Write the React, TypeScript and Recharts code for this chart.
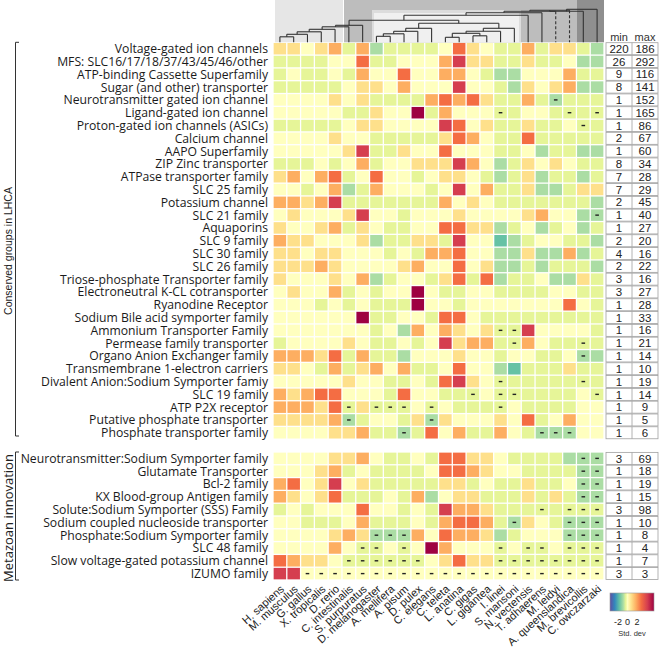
import React from "react";
import { ScatterChart, Scatter, XAxis, YAxis, Customized } from "recharts";

const species = [
  "H. sapiens", "M. musculus", "G. gallus", "X. tropicalis", "D. rerio", "C. intestinalis",
  "S. purpuratus", "D. melanogaster", "A. mellifera", "A. pisum", "D. pulex", "C. elegans",
  "C. teleta", "L. anatina", "C. gigas", "L. gigantea", "I. linei", "S. mansoni",
  "N. vectensis", "T. adhaerens", "M. leidyi", "A. queenslandica", "M. brevicollis", "C. owczarzaki",
];

const conservedGroups = [
  "Voltage-gated ion channels", "MFS: SLC16/17/18/37/43/45/46/other", "ATP-binding Cassette Superfamily",
  "Sugar (and other) transporter", "Neurotransmitter gated ion channel", "Ligand-gated ion channel",
  "Proton-gated ion channels (ASICs)", "Calcium channel", "AAPO Superfamily", "ZIP Zinc transporter",
  "ATPase transporter family", "SLC 25 family", "Potassium channel", "SLC 21 family", "Aquaporins",
  "SLC 9 family", "SLC 30 family", "SLC 26 family", "Triose-phosphate Transporter family",
  "Electroneutral K-CL cotransporter", "Ryanodine Receptor", "Sodium Bile acid symporter family",
  "Ammonium Transporter Family", "Permease family transporter", "Organo Anion Exchanger family",
  "Transmembrane 1-electron carriers", "Divalent Anion:Sodium Symporter famiy", "SLC 19 family",
  "ATP P2X receptor", "Putative phosphate transporter", "Phosphate transporter family",
];

const metazoanGroups = [
  "Neurotransmitter:Sodium Symporter family", "Glutamate Transporter", "Bcl-2 family",
  "KX Blood-group Antigen family", "Solute:Sodium Symporter (SSS) Family",
  "Sodium coupled nucleoside transporter", "Phosphate:Sodium Symporter family", "SLC 48 family",
  "Slow voltage-gated potassium channel", "IZUMO family",
];

// std. dev per group (rows) and species (columns)
const conservedValues = [
  [0.8, 0.8, 0, 0.8, 1.8, -0.4, 1.8, -0.9, -0.4, -0.4, -0.4, -0.4, 0, 2.9, 0.8, 0, -0.4, -0.4, 1.8, -0.4, 0.8, 0.8, -0.4, -0.9],
  [-0.4, -0.4, -0.4, -0.4, 0, 0, 2.9, -0.4, -0.4, 0, 0, 0, 1.8, 4.2, 0.8, 0.8, -0.4, -0.4, 0.8, -0.4, -0.4, 0, -0.9, -0.9],
  [-0.4, 0, -0.4, -0.4, 0, -0.4, 1.8, 0, 0, 2.9, 0, 0, 1.8, 1.8, 0, -0.4, -0.9, -0.9, 0, 0, 0, 1.8, -0.4, -0.4],
  [-0.4, -0.4, -0.4, -0.4, -0.4, 0, 0.8, 0.8, 0, 1.8, 0, 0, 0, 4.2, 0, 0, -0.4, -0.9, 0.8, 0, 0.8, 1.8, -0.9, -0.9],
  [0, 0, 0, 0, 0.8, 0, 0.8, -0.4, -0.4, -0.4, -0.4, 1.8, 2.9, 1.8, 2.9, 0.8, -0.4, -0.4, 1.8, -0.4, -0.9, -0.4, -0.4, -0.4],
  [0, 0, 0, 0, 0, -0.4, -0.4, 0.8, 0, 0, 5.6, -0.4, 1.8, 0, 0, 0, -0.4, -0.4, 0, 0, -0.4, -0.4, -0.4, -0.4],
  [-0.4, -0.4, -0.4, -0.4, -0.4, 0, 0.8, 0.8, 0, 0, 0, 0, 4.2, 2.9, 0, 0.8, -0.4, -0.4, 0.8, -0.4, -0.4, 0, -0.4, -0.4],
  [0, 0, 0, 0, 0.8, 0, 0, -0.4, -0.4, -0.4, -0.4, -0.4, 0.8, 2.9, 1.8, 0, -0.4, -0.4, 2.9, -0.4, -0.4, -0.4, -0.4, -0.4],
  [0, 0, 0, 0, 0, 0.8, 4.2, -0.4, -0.4, 0.8, 0, 0, 2.9, 0, 0, 0, -0.4, -0.4, 0, -0.9, -0.4, -0.4, -0.9, -0.9],
  [-0.4, -0.4, -0.4, 0, -0.4, 0, 1.8, -0.4, 0, 0, 0.8, 0.8, 0.8, 4.2, 1.8, 0, -0.9, -0.4, 0.8, 0, 0.8, 0, -0.4, -0.4],
  [0.8, 1.8, 0, 1.8, 2.9, -0.4, 0, 2.9, 0, 0, -0.4, 0, 0.8, 0.8, 0, -0.4, -0.9, -0.4, 0.8, -0.9, -0.4, -0.4, -0.9, -0.4],
  [0, 0, -0.4, 0, 1.8, -0.9, -0.4, 1.8, 0, 0, 0, -0.4, 0, 4.2, 0, 1.8, -0.4, -0.4, 0.8, -0.9, -0.9, -0.4, 0.8, 0.8],
  [1.8, 1.8, 0.8, 1.8, 4.2, -0.4, -0.4, -0.4, -0.4, -0.4, -0.4, -0.4, 1.8, 0, 0.8, 0, -0.4, -0.4, -0.4, -0.4, -0.4, -0.4, -0.4, -0.9],
  [0, 0.8, 0, 0, 0, 0.8, 4.2, 0, 0, -0.4, 0, 0, 0, 0.8, 0, 0, 0, 0, 0.8, 1.8, 0, 0, -0.9, -0.9],
  [0.8, 0, 0, 0.8, 1.8, -0.4, 0.8, 0, -0.4, -0.4, 0, 0, 2.9, 2.9, 0.8, 0.8, -0.9, -0.4, 0, -0.9, -0.4, 0, -0.9, -0.4],
  [1.8, 0.8, 0.8, 0, 0, 0, 0.8, -0.9, -0.4, -0.4, 0.8, 0.8, -0.4, 4.2, 0, 0, -1.7, -0.9, -0.4, 0, 0, -0.4, -0.4, -0.9],
  [0.8, 0.8, 0, 0.8, 0.8, 0, 0, 0, -0.4, 0, -0.4, 1.8, 1.8, 2.9, 0, 0, -0.9, -0.9, 0.8, -0.9, -0.9, 1.8, -0.9, -0.4],
  [0.8, 0.8, 0.8, 1.8, 0.8, 0, 0, 0, 0, 0.8, 1.8, 0, 0, 2.9, 0, 0.8, -0.9, -0.9, -0.4, -0.9, -0.4, -0.4, -0.4, -0.9],
  [0.8, 0, 0, 0, 0.8, 0, 1.8, -0.9, -0.4, 0, 0, -0.4, 0.8, 2.9, -0.4, 2.9, -0.9, -0.4, -0.4, 0, -0.9, -0.9, 0.8, -0.4],
  [0, 0.8, 0, 0, 1.8, -0.4, 0, -0.4, 0, 0, 5.6, 0, -0.4, -0.4, 0, 0, -0.4, -0.4, -0.4, -0.4, 0, 0, -0.4, -0.4],
  [0, 0, 0, -0.4, 0, -0.4, 0, -0.4, -0.4, -0.4, 5.6, 0, 0, -0.4, 0, 0, 0, 0, 0, 0, 0, 2.9, 0, -0.4],
  [0, 0, 0, 0, 0, 0, 5.6, -0.4, -0.4, 0, 0, -0.4, 2.9, 2.9, 0, -0.4, -0.4, -0.4, -0.4, -0.4, -0.4, -0.4, -0.4, -0.4],
  [0, 0, 0, 0, 0, 0, 0, -0.4, 0, -0.9, 1.8, 0, 1.8, 0.8, 0, 0.8, -0.4, -0.4, 4.2, 0, 0, 0, 0, -0.4],
  [-0.4, 0, 0, 0, 0, 0.8, 0, -0.4, -0.4, 0, -0.4, 0, 4.2, 0.8, 1.8, 1.8, -0.4, -0.4, 1.8, 0, -0.4, -0.4, -0.4, -0.4],
  [1.8, 1.8, 1.8, 0.8, 2.9, -0.4, 1.8, -0.4, -0.4, -0.9, 0, 0, 0, 0.8, 0, 0, -0.4, 0, 0, -0.4, -0.4, 0, -0.9, -0.9],
  [0.8, 0.8, 0, -0.4, 1.8, -0.4, 0.8, 1.8, 0, 1.8, -0.4, -0.4, 0, 2.9, 0, 0, -0.9, -1.7, -0.4, -0.4, -0.4, 0.8, -0.4, -0.4],
  [0, 0, 0, 0, 0, 0.8, 0, 0, -0.4, -0.4, 0, -0.4, 2.9, 4.2, 0.8, 0, -0.4, -0.4, -0.4, -0.4, -0.4, -0.4, -0.4, -0.4],
  [1.8, 0.8, 1.8, 2.9, 2.9, 0, 0, 0, -0.4, 2.9, 0, 0, -0.4, -0.4, -0.4, 0, -0.4, -0.4, -0.4, -0.4, -0.4, -0.4, 0, -0.4],
  [1.8, 1.8, 1.8, 0.8, 2.9, -0.4, 0.8, -0.4, -0.4, -0.4, 0, -0.4, 0, -0.4, -0.4, -0.4, -0.4, 0, -0.4, -0.4, -0.4, -0.4, 0, 0],
  [0.8, 0.8, 0.8, 0.8, 1.8, -0.9, -0.4, 0, 0, -0.4, 0.8, -0.9, 0.8, 0, 0, 0, 0.8, 0, 2.9, -0.4, 0, 1.8, 0, 0],
  [0, 0, 0, 0, 0.8, 0.8, 1.8, -0.4, -0.4, -0.9, -0.4, 2.9, 0, 1.8, -0.4, -0.4, 1.8, 0, -0.4, -0.9, -0.9, -0.9, 0, 0],
];

const metazoanValues = [
  [0, 0, 0, 0, 0.8, 0.8, 1.8, 0, -0.4, -0.4, 0, -0.4, 2.9, 2.9, 0.8, 0.8, 0, -0.4, -0.4, -0.4, -0.4, -0.9, -0.9, -0.9],
  [0, 0, 0, 0.8, 1.8, -0.4, 0, -0.4, -0.4, -0.4, -0.4, 0, 2.9, 2.9, 1.8, 0.8, 0, 0, -0.4, -0.4, -0.4, -0.4, -0.9, -0.9],
  [1.8, 2.9, 0, 0.8, 4.2, 0, 0.8, -0.4, -0.4, -0.4, -0.4, -0.4, 0.8, 0.8, -0.4, 0, -0.4, -0.4, 0.8, -0.4, -0.4, 0, -0.9, -0.9],
  [1.8, 0.8, 0, 0.8, 2.9, -0.4, -0.4, -0.4, 0, -0.4, 1.8, -0.9, 0, 0.8, 0.8, -0.4, -0.4, -0.4, 0.8, -0.4, 0.8, -0.4, -0.9, -0.9],
  [-0.4, 0, -0.4, 0, 0, 0, 2.9, 0, 0, -0.4, 0, -0.4, 4.2, 1.8, 1.8, 0.8, -0.4, -0.4, -0.4, -0.4, -0.4, -0.4, -0.4, -0.4],
  [0, 0, -0.4, -0.4, -0.4, 0, 1.8, -0.4, -0.4, -0.4, 0, -0.4, 1.8, 2.9, 2.9, 1.8, -0.4, -0.9, 0.8, 0, -0.4, -0.9, -0.9, -0.9],
  [0, 0, 0, 0, 0.8, 1.8, 0.8, -0.9, -0.9, -0.9, 1.8, 0, 2.9, 1.8, 1.8, 0.8, -0.9, -0.4, 0, 0, 0, -0.9, -0.9, -0.9],
  [0, 0, 0, 0, 1.8, 0, -0.4, -0.4, 0, -0.4, 0, 5.6, 1.8, 0, 0, 0, -0.4, 0, -0.4, -0.4, 0, -0.4, -0.4, -0.4],
  [2.9, 1.8, 0.8, 0.8, 0, -0.4, -0.4, -0.4, -0.4, -0.4, -0.4, 0, 0.8, 2.9, 0.8, 0.8, -0.4, -0.4, -0.4, -0.4, -0.4, -0.4, -0.4, -0.4],
  [4.2, 4.2, 0, 0, 0, 0, 0, 0, 0, 0, 0, 0, 0, 0, 0, 0, 0, 0, 0, 0, 0, 0, 0, 0],
];

// species (column index) where the group is absent, shown with a dash
const conservedDashes = [
  [], [], [], [], [20], [16, 21, 23], [22], [], [], [], [], [], [], [23], [], [], [], [], [], [], [], [],
  [16, 17], [17, 22], [22], [], [16, 22], [14, 16, 17, 23], [5, 7, 8, 9, 11, 16], [5, 11], [9, 19, 20, 21],
];
const metazoanDashes = [
  [22, 23], [22, 23], [22, 23], [22, 23], [19, 21, 22, 23], [17, 21, 22, 23], [7, 8, 9, 21, 22, 23],
  [6, 7, 9, 16, 18, 19, 21, 22, 23], [5, 6, 7, 8, 9, 10, 16, 17, 18, 19, 20, 21, 22, 23],
  [2, 3, 4, 5, 6, 7, 8, 9, 10, 11, 12, 13, 14, 15, 16, 17, 18, 19, 20, 21, 22, 23],
];

const conservedMin = [220, 26, 9, 8, 1, 1, 1, 2, 1, 8, 7, 7, 2, 1, 1, 2, 4, 2, 3, 3, 1, 1, 1, 1, 1, 1, 1, 1, 1, 1, 1];
const conservedMax = [186, 292, 116, 141, 152, 165, 86, 67, 60, 34, 28, 29, 45, 40, 27, 20, 16, 22, 16, 27, 28, 33, 16, 21, 14, 10, 19, 14, 9, 5, 6];
const metazoanMin = [3, 1, 1, 1, 3, 1, 1, 1, 1, 3];
const metazoanMax = [69, 18, 19, 15, 98, 10, 8, 4, 7, 3];

// species tree: [child a, child b, height, dashed]; leaves are 0..23, merges are 24+
const treeMerges: [number, number, number, boolean][] = [
  [0, 1, 5.5, false], [24, 2, 8, false], [25, 3, 10.5, false], [26, 4, 13, false],
  [27, 5, 15.5, false], [28, 6, 17, false],
  [7, 8, 6, false], [30, 9, 8.5, false], [31, 10, 11, false], [32, 11, 14, false],
  [12, 13, 5, false], [14, 15, 6.5, false], [34, 35, 9, false], [36, 16, 11, false], [37, 17, 14, false],
  [33, 38, 19, false], [29, 39, 22, false], [40, 18, 27, false], [41, 19, 29.5, false],
  [42, 20, 31, true], [43, 21, 32, true], [44, 22, 31, false], [45, 23, 33, false],
];

const GAP = 1; // blank rows between the two blocks
const metazoanStart = conservedGroups.length + GAP;

const W = 660;
const H = 648;
const PLOT_LEFT = 273;
const PLOT_RIGHT = 604;
const PLOT_TOP = 42.3;
const PLOT_BOTTOM = 580;
const COL_W = (PLOT_RIGHT - PLOT_LEFT) / species.length;
const ROW_H = (PLOT_BOTTOM - PLOT_TOP) / (metazoanStart + metazoanGroups.length);

const stops: [number, string][] = [
  [-3.7, "#5e4fa2"], [-2.7, "#3288bd"], [-1.7, "#66c2a5"], [-0.9, "#abdda4"], [-0.4, "#e6f598"],
  [0, "#ffffbf"], [0.8, "#fee08b"], [1.8, "#fdae61"], [2.9, "#f46d43"], [4.2, "#d53e4f"], [5.6, "#9e0142"],
];

function hex(c: string) {
  return [1, 3, 5].map((i) => parseInt(c.slice(i, i + 2), 16));
}
function colorFor(v: number) {
  if (v <= stops[0][0]) return stops[0][1];
  for (let i = 1; i < stops.length; i++) {
    if (v <= stops[i][0]) {
      const [v0, c0] = stops[i - 1];
      const [v1, c1] = stops[i];
      const t = (v - v0) / (v1 - v0);
      const a = hex(c0), b = hex(c1);
      return `rgb(${a.map((x, k) => Math.round(x + (b[k] - x) * t)).join(",")})`;
    }
  }
  return stops[stops.length - 1][1];
}

const cells: { x: number; y: number; v: number; dash: boolean }[] = [];
conservedValues.forEach((row, r) =>
  row.forEach((v, c) => cells.push({ x: c, y: r, v, dash: conservedDashes[r].includes(c) }))
);
metazoanValues.forEach((row, r) =>
  row.forEach((v, c) => cells.push({ x: c, y: metazoanStart + r, v, dash: metazoanDashes[r].includes(c) }))
);

const rowTicks = [
  ...conservedGroups.map((_, i) => i),
  ...metazoanGroups.map((_, i) => metazoanStart + i),
];
function rowInfo(pos: number) {
  if (pos < conservedGroups.length)
    return { label: conservedGroups[pos], min: conservedMin[pos], max: conservedMax[pos] };
  const j = pos - metazoanStart;
  return { label: metazoanGroups[j], min: metazoanMin[j], max: metazoanMax[j] };
}

const labelFont = "'Open Sans', 'Noto Sans', sans-serif";
const arial = "'Liberation Sans', Arial, sans-serif";

const HeatCell = (props: any) => {
  const { cx, cy, payload } = props;
  const w = COL_W - 1.3;
  const h = ROW_H - 1.3;
  return (
    <g>
      <rect x={cx - w / 2} y={cy - h / 2} width={w} height={h} fill={colorFor(payload.v)} />
      {payload.dash && <rect x={cx - 1.8} y={cy - 0.7} width={3.6} height={1.4} fill="#222" />}
    </g>
  );
};

const GroupTick = (props: any) => {
  const { x, y, payload } = props;
  return (
    <text x={x} y={y} dy="0.36em" textAnchor="end" fontSize={12.2} fontFamily={labelFont} fill="#1a1a1a">
      {rowInfo(payload.value).label}
    </text>
  );
};

const TableTick = (props: any) => {
  const { y, payload } = props;
  const info = rowInfo(payload.value);
  const top = y - ROW_H / 2 + 0.4;
  const h = ROW_H - 0.8;
  return (
    <g>
      <rect x={606} y={top} width={52} height={h} fill="#fff" stroke="#a0a0a0" strokeWidth={0.8} />
      <line x1={632} y1={top} x2={632} y2={top + h} stroke="#a0a0a0" strokeWidth={0.8} />
      <text x={619} y={y} dy="0.36em" textAnchor="middle" fontSize={11.5} fontFamily={arial} fill="#222">
        {info.min}
      </text>
      <text x={645} y={y} dy="0.36em" textAnchor="middle" fontSize={11.5} fontFamily={arial} fill="#222">
        {info.max}
      </text>
    </g>
  );
};

const SpeciesTick = (props: any) => {
  const { x, y, payload } = props;
  const ax = x + 5;
  const ay = y + 10;
  return (
    <text x={ax} y={ay} transform={`rotate(-42 ${ax} ${ay})`} textAnchor="end" fontSize={11} fontFamily={arial} fill="#222">
      {species[payload.value]}
    </text>
  );
};

const colX = (i: number) => PLOT_LEFT + (i + 0.5) * COL_W;

const Decorations = () => {
  const base = PLOT_TOP;
  const nx = species.map((_, i) => colX(i));
  const ny = species.map(() => base);
  const lines: React.ReactNode[] = [];
  treeMerges.forEach(([a, b, h, dashed], k) => {
    const y = base - h;
    const dash = dashed ? "3 2" : undefined;
    lines.push(
      <g key={k} stroke="#333" strokeWidth={1.1} fill="none">
        <line x1={nx[a]} y1={y} x2={nx[b]} y2={y} />
        <line x1={nx[a]} y1={y} x2={nx[a]} y2={ny[a]} strokeDasharray={a === 20 || a === 21 ? dash : undefined} />
        <line x1={nx[b]} y1={y} x2={nx[b]} y2={ny[b]} strokeDasharray={dash} />
      </g>
    );
    nx.push((nx[a] + nx[b]) / 2);
    ny.push(y);
  });

  const legendStops = stops.map(([v], i) => ({ off: (v - stops[0][0]) / (stops[stops.length - 1][0] - stops[0][0]), c: stops[i][1] }));
  const lx0 = 610, lx1 = 654;
  const valX = (v: number) => lx0 + ((v - stops[0][0]) / (stops[stops.length - 1][0] - stops[0][0])) * (lx1 - lx0);

  return (
    <g>
      {/* clade shading behind the tree */}
      <rect x={275} y={0} width={68} height={base} fill="#e6e6e6" />
      <rect x={344} y={0} width={233} height={base} fill="#bdbdbd" />
      <rect x={372} y={10} width={149} height={base - 10} fill="#dcdcdc" />
      <rect x={374} y={13} width={145} height={base - 13} fill="#f0f0f0" />
      <rect x={577} y={0} width={27} height={base} fill="#8f8f8f" />
      {lines}

      {/* side brackets */}
      <g stroke="#333" strokeWidth={1} fill="none">
        <polyline points={`19,${PLOT_TOP} 15.5,${PLOT_TOP} 15.5,436 19,436`} />
        <polyline points={`19,452 15.5,452 15.5,${PLOT_BOTTOM} 19,${PLOT_BOTTOM}`} />
      </g>
      <text x={11.5} y={251} transform="rotate(-90 11.5 251)" textAnchor="middle" fontSize={10.5} fontFamily={arial} fill="#222">
        Conserved groups in LHCA
      </text>
      <text x={13} y={518} transform="rotate(-90 13 518)" textAnchor="middle" fontSize={13} fontFamily={labelFont} fill="#222">
        Metazoan innovation
      </text>

      {/* table header */}
      <text x={619} y={41} textAnchor="middle" fontSize={11} fontFamily={arial} fill="#333">min</text>
      <text x={645} y={41} textAnchor="middle" fontSize={11} fontFamily={arial} fill="#333">max</text>

      {/* colour legend */}
      <defs>
        <linearGradient id="sd" x1="0" x2="1" y1="0" y2="0">
          {legendStops.map((s, i) => (
            <stop key={i} offset={s.off} stopColor={s.c} />
          ))}
        </linearGradient>
      </defs>
      <rect x={lx0} y={593} width={lx1 - lx0} height={18} fill="url(#sd)" stroke="#999" strokeWidth={0.6} />
      {[-2, 0, 2].map((v) => (
        <text key={v} x={valX(v)} y={625} textAnchor="middle" fontSize={9} fontFamily={arial} fill="#222">
          {v}
        </text>
      ))}
      <text x={632} y={636} textAnchor="middle" fontSize={7.5} fontFamily={arial} fill="#333">Std. dev</text>
    </g>
  );
};

export default function App() {
  return (
    <div style={{ position: "absolute", left: 0, top: 0, width: W, height: H, background: "#fff" }}>
      <ScatterChart width={W} height={H} margin={{ top: PLOT_TOP, right: 0, bottom: 0, left: 0 }}>
        <XAxis
          type="number"
          dataKey="x"
          domain={[-0.5, species.length - 0.5]}
          ticks={species.map((_, i) => i)}
          interval={0}
          height={H - PLOT_BOTTOM}
          axisLine={false}
          tickLine={false}
          tickSize={0}
          tickMargin={0}
          tick={<SpeciesTick />}
        />
        <YAxis
          type="number"
          dataKey="y"
          domain={[-0.5, metazoanStart + metazoanGroups.length - 0.5]}
          reversed
          ticks={rowTicks}
          interval={0}
          width={PLOT_LEFT}
          axisLine={false}
          tickLine={false}
          tickSize={0}
          tickMargin={5}
          tick={<GroupTick />}
        />
        <YAxis
          yAxisId="table"
          orientation="right"
          type="number"
          dataKey="y"
          domain={[-0.5, metazoanStart + metazoanGroups.length - 0.5]}
          reversed
          ticks={rowTicks}
          interval={0}
          width={W - PLOT_RIGHT}
          axisLine={false}
          tickLine={false}
          tickSize={0}
          tick={<TableTick />}
        />
        <Scatter data={cells} shape={<HeatCell />} isAnimationActive={false} />
        <Scatter data={cells} yAxisId="table" shape={() => <g />} isAnimationActive={false} />
        <Customized component={<Decorations />} />
      </ScatterChart>
    </div>
  );
}
